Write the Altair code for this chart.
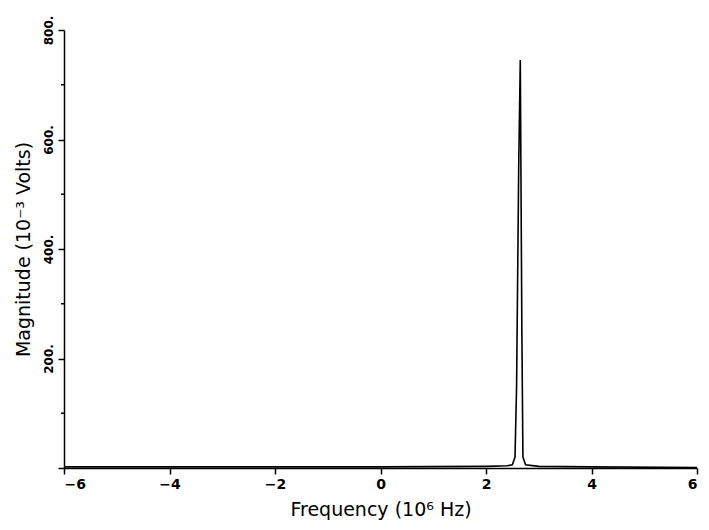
import altair as alt
import pandas as pd

# Spectrum readings (frequency in 10^6 Hz, magnitude in 10^-3 V)
freq = [-6.0, -4.0, -2.0, 0.0, 2.0, 2.40, 2.50, 2.55, 2.58, 2.62, 2.65, 2.68, 2.70, 2.75, 3.0, 4.0, 6.0]
mag = [2, 2, 2, 2, 3, 4, 6, 20, 150, 550, 745, 250, 20, 6, 3, 2, 1]

x_ticks = [-6, -4, -2, 0, 2, 4, 6]
y_major = [0, 200, 400, 600, 800]
y_minor = [100, 300, 500, 700]

W, H = 633, 438
FONT = "DejaVu Sans"

df = pd.DataFrame({"f": freq, "m": mag})
minor_df = pd.DataFrame({"m": y_minor})

x_scale = alt.Scale(domain=[-6, 6], nice=False, zero=False)
y_scale = alt.Scale(domain=[0, 800], nice=False)

x_axis = alt.Axis(
    values=x_ticks,
    title="Frequency (10⁶ Hz)",
    labelExpr="datum.value < 0 ? '−' + abs(datum.value) : datum.value",
    grid=False, domainColor="black", domainWidth=1.5,
    tickColor="black", tickWidth=1.5, tickSize=6,
    labelFont=FONT, labelFontSize=14, labelFontWeight="bold", labelColor="black",
    labelPadding=3,
    titleFont=FONT, titleFontSize=19, titleFontWeight="normal", titleColor="black",
    titlePadding=9,
)
y_axis = alt.Axis(
    values=y_major,
    title="Magnitude (10⁻³ Volts)",
    labelExpr="datum.value == 0 ? '' : datum.value + '.'",
    labelAngle=270, labelAlign="center", labelBaseline="bottom",
    grid=False, domainColor="black", domainWidth=1.5,
    tickColor="black", tickWidth=1.5, tickSize=6,
    labelFont=FONT, labelFontSize=12, labelFontWeight="bold", labelColor="black",
    labelPadding=3,
    titleFont=FONT, titleFontSize=19, titleFontWeight="normal", titleColor="black",
    titlePadding=9,
)

line = alt.Chart(df).mark_line(color="black", strokeWidth=1.6).encode(
    x=alt.X("f:Q", scale=x_scale, axis=x_axis),
    y=alt.Y("m:Q", scale=y_scale, axis=y_axis),
)

minor = alt.Chart(minor_df).mark_rule(color="black", strokeWidth=1.5).encode(
    x=alt.value(-3),
    x2=alt.value(0),
    y=alt.Y("m:Q", scale=y_scale),
)

chart = alt.layer(line, minor).properties(
    width=W, height=H,
    autosize=alt.AutoSizeParams(type="none"),
    padding={"left": 64, "top": 30, "right": 12, "bottom": 62},
    background="white",
).configure_view(stroke=None, strokeWidth=0)

chart.save("out.html", embed_options={"renderer": "svg", "actions": False})
